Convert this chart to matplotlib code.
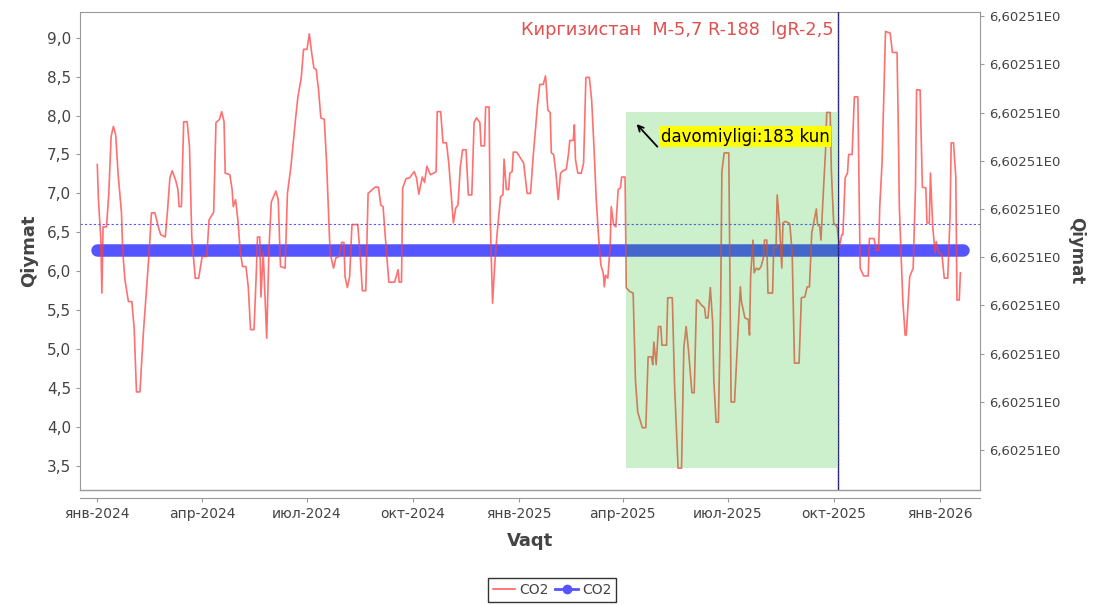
import matplotlib
matplotlib.use("Agg")
import matplotlib.pyplot as plt
from matplotlib.lines import Line2D
import numpy as np

# days since 2024-01-01 and CO2 values
days = [0, 1, 3, 4, 5, 8, 10, 12, 14, 16, 18, 21, 22, 24, 27, 30, 32, 34, 37, 40,
        42, 45, 47, 50, 53, 55, 59, 61, 63, 65, 68, 70, 71, 73, 75, 78, 80, 82, 85, 88,
        91, 95, 97, 101, 103, 106, 108, 110, 111, 115, 117, 118, 120, 122, 124, 126, 129, 131, 133, 136,
        138, 139, 141, 142, 144, 147, 149, 151, 155, 157, 159, 163, 165, 168, 172, 174, 177, 179, 182, 184,
        186, 188, 190, 192, 194, 197, 199, 202, 205, 207, 210, 212, 214, 215, 217, 219, 221, 226, 228, 230,
        233, 235, 241, 244, 246, 248, 250, 253, 258, 261, 262, 264, 265, 268, 271, 275, 277, 279, 282, 284,
        286, 289, 292, 294, 295, 298, 300, 303, 305, 307, 309, 311, 313, 315, 317, 320, 322, 325, 327, 329,
        332, 333, 336, 337, 340, 341, 343, 345, 347, 350, 352, 353, 355, 357, 358, 360, 361, 364, 367, 370,
        373, 376, 378, 382, 384, 387, 389, 391, 393, 394, 396, 398, 400, 402, 404, 407, 409, 410, 413, 414,
        415, 417, 420, 422, 424, 427, 429, 431, 433, 435, 437, 439, 440, 441, 443, 445, 446, 448, 450, 452,
        454, 455, 458, 459, 462, 465, 467, 469, 471, 473, 476, 478, 481, 482, 483, 485, 487, 489, 490, 494,
        495, 499, 501, 504, 507, 509, 511, 513, 516, 518, 520, 521, 524, 527, 528, 530, 532, 534, 535, 537,
        539, 541, 542, 544, 548, 549, 550, 553, 556, 558, 559, 562, 565, 566, 567, 569, 570, 572, 574, 576,
        578, 579, 581, 582, 586, 587, 589, 590, 592, 594, 595, 597, 600, 601, 603, 605, 609, 611, 614, 616,
        618, 620, 621, 624, 625, 627, 628, 630, 632, 633, 636, 637, 639, 642, 644, 646, 647, 649, 651, 652,
        655, 657, 660, 662, 665, 669, 670, 674, 676, 678, 679, 681, 682, 684, 688, 690, 694, 695, 696, 699,
        701, 702, 705, 708, 710, 711, 714, 716, 719, 720, 722, 723, 725, 727, 728, 730, 733, 735, 738, 740,
        741, 743, 745, 746, 748, 749]
co2 = [7.37, 6.92, 6.43, 5.72, 6.57, 6.57, 7.0, 7.73, 7.86, 7.75, 7.26, 6.75, 6.27, 5.89, 5.61, 5.61, 5.27, 4.45, 4.45, 5.21,
       5.63, 6.24, 6.75, 6.75, 6.57, 6.47, 6.44, 6.79, 7.20, 7.29, 7.17, 7.05, 6.83, 6.83, 7.92, 7.92, 7.60, 6.44, 5.91, 5.91,
       6.19, 6.19, 6.66, 6.76, 7.91, 7.95, 8.05, 7.92, 7.26, 7.24, 7.05, 6.83, 6.92, 6.66, 6.27, 6.06, 6.06, 5.80, 5.25, 5.25,
       5.98, 6.44, 6.44, 5.67, 6.24, 5.14, 6.30, 6.89, 7.03, 6.92, 6.06, 6.04, 7.0, 7.34, 7.95, 8.23, 8.49, 8.85, 8.85, 9.05,
       8.81, 8.61, 8.59, 8.33, 7.97, 7.95, 7.39, 6.24, 6.04, 6.17, 6.19, 6.37, 6.37, 5.93, 5.79, 5.93, 6.60, 6.60, 6.24, 5.75,
       5.75, 7.0, 7.08, 7.08, 6.85, 6.83, 6.43, 5.86, 5.86, 6.02, 5.86, 5.86, 7.07, 7.19, 7.20, 7.28, 7.20, 6.99, 7.21, 7.14,
       7.35, 7.24, 7.26, 7.28, 8.05, 8.05, 7.65, 7.65, 7.39, 7.0, 6.62, 6.81, 6.85, 7.34, 7.56, 7.56, 6.98, 6.98, 7.91, 7.97,
       7.91, 7.61, 7.61, 8.11, 8.11, 6.66, 5.59, 6.11, 6.49, 6.96, 6.98, 7.44, 7.05, 7.05, 7.26, 7.28, 7.53, 7.53, 7.46, 7.39,
       7.0, 7.0, 7.43, 8.13, 8.40, 8.40, 8.51, 8.07, 8.04, 7.52, 7.50, 7.26, 6.92, 7.26, 7.29, 7.31, 7.52, 7.68, 7.68, 7.88,
       7.43, 7.26, 7.26, 7.39, 8.49, 8.49, 8.20, 7.60, 6.92, 6.44, 6.08, 5.98, 5.80, 5.95, 5.91, 6.31, 6.83, 6.60, 6.57, 7.05,
       7.07, 7.21, 7.21, 5.79, 5.74, 5.72, 4.60, 4.19, 4.09, 3.99, 3.99, 4.90, 4.90, 4.80, 5.09, 4.80, 5.29, 5.29, 5.05, 5.05,
       5.66, 5.66, 4.51, 3.47, 3.47, 5.02, 5.29, 4.99, 4.44, 4.44, 5.63, 5.63, 5.57, 5.53, 5.40, 5.40, 5.79, 5.34, 4.60, 4.06,
       4.06, 5.63, 7.28, 7.52, 7.52, 5.93, 4.32, 4.32, 5.21, 5.80, 5.61, 5.40, 5.38, 5.18, 5.95, 6.40, 5.98, 6.04, 6.02, 6.06,
       6.17, 6.40, 6.40, 5.72, 5.72, 6.31, 6.31, 6.98, 6.62, 6.04, 6.62, 6.64, 6.62, 6.60, 6.24, 4.82, 4.82, 5.66, 5.67, 5.80,
       5.80, 6.49, 6.57, 6.80, 6.60, 6.57, 6.40, 7.0, 7.56, 8.04, 8.04, 7.30, 6.62, 6.57, 6.31, 6.47, 6.47, 7.20, 7.26, 7.50,
       7.50, 8.24, 8.24, 6.04, 5.94, 5.94, 6.42, 6.42, 6.27, 6.27, 6.83, 7.39, 7.95, 9.08, 9.06, 8.81, 8.81, 7.95, 6.83, 5.63,
       5.18, 5.18, 5.93, 6.04, 7.08, 8.33, 8.33, 7.08, 7.07, 6.62, 6.62, 7.26, 6.57, 6.24, 6.38, 6.24, 6.21, 5.91, 5.91, 6.70,
       7.65, 7.65, 7.21, 5.63, 5.63, 5.98]

trend_value = 6.27          # blue CO2 series (constant)
trend_days = [0, 751]
mean_value = 6.61           # dashed reference line
period_start, period_end = 459, 642   # davomiyligi: 183 kun
title_text = "Киргизистан  M-5,7 R-188  lgR-2,5"
note_text = "davomiyligi:183 kun"
right_label = "6,60251E0"
month_names = {1: "янв", 4: "апр", 7: "июл", 10: "окт"}

base = np.datetime64("2024-01-01")
dates = base + np.array(days).astype("timedelta64[D]")
co2 = np.array(co2)

fig = plt.figure(figsize=(10.96, 6.05), dpi=100)
ax = fig.add_axes([80 / 1096, 1 - 490 / 605, 900 / 1096, 478 / 605])

gray = "#999999"
txt = "#444444"

ax.plot(dates, co2, color="#ff4040", alpha=0.75, lw=1.2, zorder=3)
ax.plot(base + np.array(trend_days).astype("timedelta64[D]"), [trend_value] * 2,
        color="#5555ff", lw=9, solid_capstyle="round", zorder=2)
ax.axhline(mean_value, color="#5555ff", lw=0.8, ls=(0, (2, 2)), zorder=2)

# highlighted period
ps = base + np.timedelta64(period_start, "D")
pe = base + np.timedelta64(period_end, "D")
mask = (np.array(days) >= period_start) & (np.array(days) <= period_end)
ax.fill_between([ps, pe], co2[mask].min(), co2[mask].max(),
                color=(0.0, 0.7, 0.0), alpha=0.2, lw=0, zorder=4)
ax.axvline(pe + np.timedelta64(1, "D"), color="#222244", lw=1.0, zorder=5)
ax.axvline(pe + np.timedelta64(1, "D"), color="#4444ff", lw=0.8, ls=(0, (1, 2)), zorder=5)

ax.annotate("", xy=(ps + np.timedelta64(9, "D"), 7.89),
            xytext=(ps + np.timedelta64(27, "D"), 7.60), zorder=6,
            arrowprops=dict(arrowstyle="->", color="black", lw=1.3,
                            shrinkA=0, shrinkB=0))
ax.text(ps + np.timedelta64(30, "D"), 7.73, note_text, fontsize=12,
        va="center", ha="left", color="black", zorder=6,
        bbox=dict(boxstyle="square,pad=0.08", fc="#ffff00", ec="none"))

ax.text(0.837, 0.962, title_text, transform=ax.transAxes, ha="right", va="center",
        color="#e05050", fontsize=12.8, zorder=6)

# axes limits
ax.set_xlim(base - np.timedelta64(15, "D"), base + np.timedelta64(766, "D"))
ax.set_ylim(3.19, 9.33)

yt = np.arange(3.5, 9.01, 0.5)
ax.set_yticks(yt)
ax.set_yticklabels([f"{v:.1f}".replace(".", ",") for v in yt], fontsize=11, color=txt)

xt = []
xl = []
for y in (2024, 2025, 2026):
    for m in (1, 4, 7, 10):
        d = np.datetime64(f"{y}-{m:02d}-01")
        if d <= np.datetime64("2026-01-01"):
            xt.append(d)
            xl.append(f"{month_names[m]}-{y}")
ax.set_xticks(xt)
ax.set_xticklabels(xl, fontsize=10, color=txt)

for s in ax.spines.values():
    s.set_color(gray)
ax.spines["bottom"].set_position(("outward", 6))
ax.plot([0, 1], [0, 0], transform=ax.transAxes, color=gray, lw=1, clip_on=False)
ax.tick_params(axis="both", colors=gray, length=3, labelcolor=txt)

ax.set_xlabel("Vaqt", fontsize=13, fontweight="bold", color=txt, labelpad=8)
ax.set_ylabel("Qiymat", fontsize=13, fontweight="bold", color=txt, labelpad=6)

# right axis with constant labels
ax2 = ax.twinx()
ax2.set_ylim(0, 478 / 48.2)
rt = 0.83 + np.arange(10)
ax2.set_yticks(rt)
ax2.set_yticklabels([right_label] * len(rt), fontsize=9.5, color=txt)
ax2.tick_params(axis="y", colors=gray, length=3, labelcolor=txt)
for s in ax2.spines.values():
    s.set_visible(False)
ax2.set_ylabel("Qiymat", fontsize=12, fontweight="bold", color=txt, rotation=270, labelpad=18)

handles = [Line2D([], [], color="#ff6060", lw=1.2),
           Line2D([], [], color="#5555ff", lw=2, marker="o", markersize=6)]
leg = fig.legend(handles, ["CO2", "CO2"], loc="center", bbox_to_anchor=(552 / 1096, 1 - 590 / 605),
                 ncol=2, fontsize=10, frameon=True, fancybox=False, handlelength=1.6,
                 handletextpad=0.3, columnspacing=0.5, borderpad=0.35)
leg.get_frame().set_edgecolor("black")
leg.get_frame().set_linewidth(1.0)
for t in leg.get_texts():
    t.set_color(txt)

fig.savefig("out.png", dpi=100)
